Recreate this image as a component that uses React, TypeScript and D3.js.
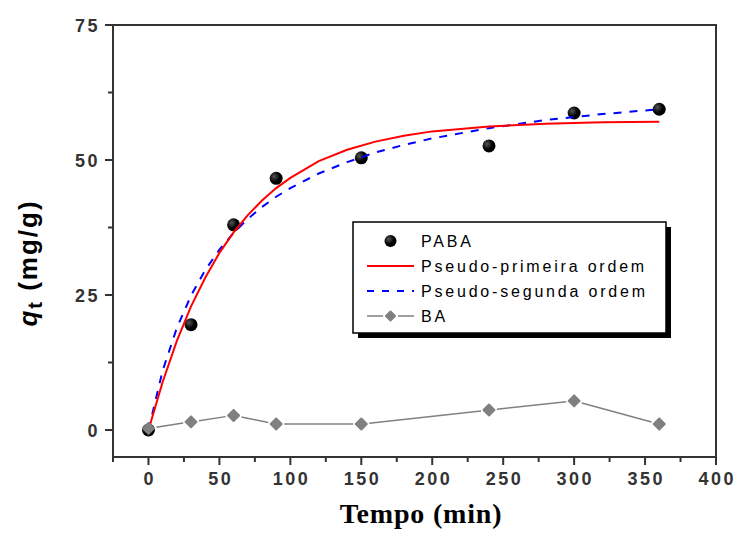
import React from "react";
import * as d3 from "d3";

// Experimental adsorption data (time in min, q_t in mg/g)
const sampleTime = [0, 30, 60, 90, 150, 240, 300, 360];
const pabaQ = [0, 19.5, 38.0, 46.6, 50.4, 52.6, 58.7, 59.4];
const baQ = [0.3, 1.5, 2.7, 1.1, 1.1, 3.7, 5.4, 1.1];

// Kinetic model curves
const fitTime = [0, 10, 20, 30, 40, 50, 60, 70, 80, 90, 100, 120, 140, 160, 180, 200, 240, 280, 320, 360];
const firstOrderQ = [0, 8.9, 16.5, 22.9, 28.2, 32.8, 36.6, 39.8, 42.5, 44.8, 46.7, 49.8, 51.9, 53.4, 54.5, 55.3, 56.2, 56.7, 57.0, 57.1];
const secondOrderQ = [0, 11.0, 18.9, 24.9, 29.6, 33.4, 36.5, 39.1, 41.3, 43.2, 44.8, 47.5, 49.6, 51.4, 52.8, 54.0, 55.9, 57.4, 58.5, 59.4];

const xMajorTicks = [0, 50, 100, 150, 200, 250, 300, 350, 400];
const xMinorTicks = [-25, 25, 75, 125, 175, 225, 275, 325, 375];
const yMajorTicks = [0, 25, 50, 75];
const yMinorTicks = [12.5, 37.5, 62.5];

const legendLabels = ["PABA", "Pseudo-primeira ordem", "Pseudo-segunda ordem", "BA"];

const W = 737;
const H = 533;
const plot = { left: 113, right: 716, top: 25, bottom: 457 };

// Compact, slightly rounded diamond marker for the BA series
function diamondPath(r: number): string {
  const p = d3.path();
  p.moveTo(0, -r);
  p.lineTo(r, 0);
  p.lineTo(0, r);
  p.lineTo(-r, 0);
  p.closePath();
  return p.toString();
}

export default function App() {
  const x = d3.scaleLinear().domain([-25, 400]).range([plot.left, plot.right]);
  const y = d3.scaleLinear().domain([-5, 75]).range([plot.bottom, plot.top]);

  const line = d3
    .line<[number, number]>()
    .x((d) => x(d[0]))
    .y((d) => y(d[1]));

  const firstPts: [number, number][] = fitTime.map((t, i) => [t, firstOrderQ[i]]);
  const secondPts: [number, number][] = fitTime.map((t, i) => [t, secondOrderQ[i]]);
  const baPts = sampleTime.map((t, i) => [x(t), y(baQ[i])] as [number, number]);

  // BA connecting segments leave a small gap around each marker
  const gap = 8;
  const baSegments = baPts.slice(1).map((p, i) => {
    const a = baPts[i];
    const dx = p[0] - a[0];
    const dy = p[1] - a[1];
    const len = Math.hypot(dx, dy);
    const ux = dx / len;
    const uy = dy / len;
    return [a[0] + ux * gap, a[1] + uy * gap, p[0] - ux * gap, p[1] - uy * gap];
  });

  const diamond = diamondPath(5.5);

  const tickFont = {
    fontFamily: "'Liberation Sans', Arial, sans-serif",
    fontWeight: 700,
    fontSize: 18,
    letterSpacing: 2.5,
    fill: "#333",
  } as const;

  const legendFont = {
    fontFamily: "'Liberation Sans', Arial, sans-serif",
    fontSize: 16,
    letterSpacing: 2.8,
    fill: "#000",
  } as const;

  const lg = { x: 353, y: 222, w: 313, h: 111 };
  const rowY = [241, 266, 291, 316];
  const sampleX0 = 367;
  const sampleX1 = 414;
  const textX = 421;

  return (
    <svg
      width={W}
      height={H}
      style={{ position: "absolute", left: 0, top: 0, background: "#fff" }}
    >
      <defs>
        <radialGradient id="dotShade" cx="35%" cy="35%" r="70%">
          <stop offset="0%" stopColor="#555" />
          <stop offset="60%" stopColor="#000" />
        </radialGradient>
      </defs>

      {/* Minor and major ticks */}
      {xMinorTicks.map((t) => (
        <line key={"xm" + t} x1={x(t)} x2={x(t)} y1={plot.bottom} y2={plot.bottom + 5} stroke="#333" strokeWidth={2} />
      ))}
      {xMajorTicks.map((t) => (
        <line key={"xM" + t} x1={x(t)} x2={x(t)} y1={plot.bottom} y2={plot.bottom + 8} stroke="#333" strokeWidth={2} />
      ))}
      {yMinorTicks.map((t) => (
        <line key={"ym" + t} x1={plot.left - 5} x2={plot.left} y1={y(t)} y2={y(t)} stroke="#333" strokeWidth={2} />
      ))}
      {yMajorTicks.map((t) => (
        <line key={"yM" + t} x1={plot.left - 8} x2={plot.left} y1={y(t)} y2={y(t)} stroke="#333" strokeWidth={2} />
      ))}

      {/* Tick labels */}
      {xMajorTicks.map((t) => (
        <text key={"xl" + t} x={x(t) + 1.25} y={485} textAnchor="middle" {...tickFont}>
          {t}
        </text>
      ))}
      {yMajorTicks.map((t) => (
        <text key={"yl" + t} x={plot.left - 13} y={y(t) + 6.5} textAnchor="end" {...tickFont}>
          {t}
        </text>
      ))}

      {/* Frame */}
      <rect
        x={plot.left}
        y={plot.top}
        width={plot.right - plot.left}
        height={plot.bottom - plot.top}
        fill="none"
        stroke="#333"
        strokeWidth={2}
      />

      {/* BA series */}
      {baSegments.map((s, i) => (
        <line key={"bs" + i} x1={s[0]} y1={s[1]} x2={s[2]} y2={s[3]} stroke="#808080" strokeWidth={1.5} />
      ))}

      {/* PABA experimental points */}
      {sampleTime.map((t, i) => (
        <circle key={"p" + t} cx={x(t)} cy={y(pabaQ[i])} r={6.5} fill="url(#dotShade)" />
      ))}

      {/* Model curves */}
      <path d={line(secondPts) || ""} fill="none" stroke="#0000ff" strokeWidth={2} strokeDasharray="8,8" />
      <path d={line(firstPts) || ""} fill="none" stroke="#ff0000" strokeWidth={2} />

      {/* BA markers */}
      {baPts.map((p, i) => (
        <path
          key={"bm" + i}
          d={diamond}
          transform={`translate(${p[0]},${p[1]})`}
          fill="#808080"
          stroke="#808080"
          strokeWidth={2}
          strokeLinejoin="round"
        />
      ))}

      {/* Legend */}
      <rect x={lg.x + 5} y={lg.y + 5} width={lg.w} height={lg.h} fill="#000" />
      <rect x={lg.x} y={lg.y} width={lg.w} height={lg.h} fill="#fff" stroke="#000" strokeWidth={1.5} />
      <circle cx={(sampleX0 + sampleX1) / 2} cy={rowY[0]} r={6} fill="url(#dotShade)" />
      <line x1={sampleX0} x2={sampleX1} y1={rowY[1]} y2={rowY[1]} stroke="#ff0000" strokeWidth={2} />
      <line x1={sampleX0} x2={sampleX1} y1={rowY[2]} y2={rowY[2]} stroke="#0000ff" strokeWidth={2} strokeDasharray="7,8" />
      <line x1={sampleX0} x2={sampleX0 + 16} y1={rowY[3]} y2={rowY[3]} stroke="#808080" strokeWidth={1.5} />
      <line x1={sampleX1 - 16} x2={sampleX1} y1={rowY[3]} y2={rowY[3]} stroke="#808080" strokeWidth={1.5} />
      <path
        d={diamondPath(4.5)}
        transform={`translate(${(sampleX0 + sampleX1) / 2},${rowY[3]})`}
        fill="#808080"
        stroke="#808080"
        strokeWidth={2}
        strokeLinejoin="round"
      />
      {legendLabels.map((label, i) => (
        <text key={label} x={textX} y={rowY[i] + 6} {...legendFont}>
          {label}
        </text>
      ))}

      {/* Axis titles */}
      <text
        x={421}
        y={523}
        textAnchor="middle"
        fontFamily="'Liberation Serif', 'Times New Roman', serif"
        fontWeight={700}
        fontSize={28}
        letterSpacing={0.8}
        fill="#000"
      >
        Tempo (min)
      </text>
      <text
        transform="translate(37,263) rotate(-90)"
        textAnchor="middle"
        fontFamily="'Liberation Sans', Arial, sans-serif"
        fontWeight={700}
        fontSize={26}
        letterSpacing={2}
        fill="#000"
      >
        <tspan fontStyle="italic">q</tspan>
        <tspan fontSize={20} dy={5}>t</tspan>
        <tspan dy={-5}> (mg/g)</tspan>
      </text>
    </svg>
  );
}
